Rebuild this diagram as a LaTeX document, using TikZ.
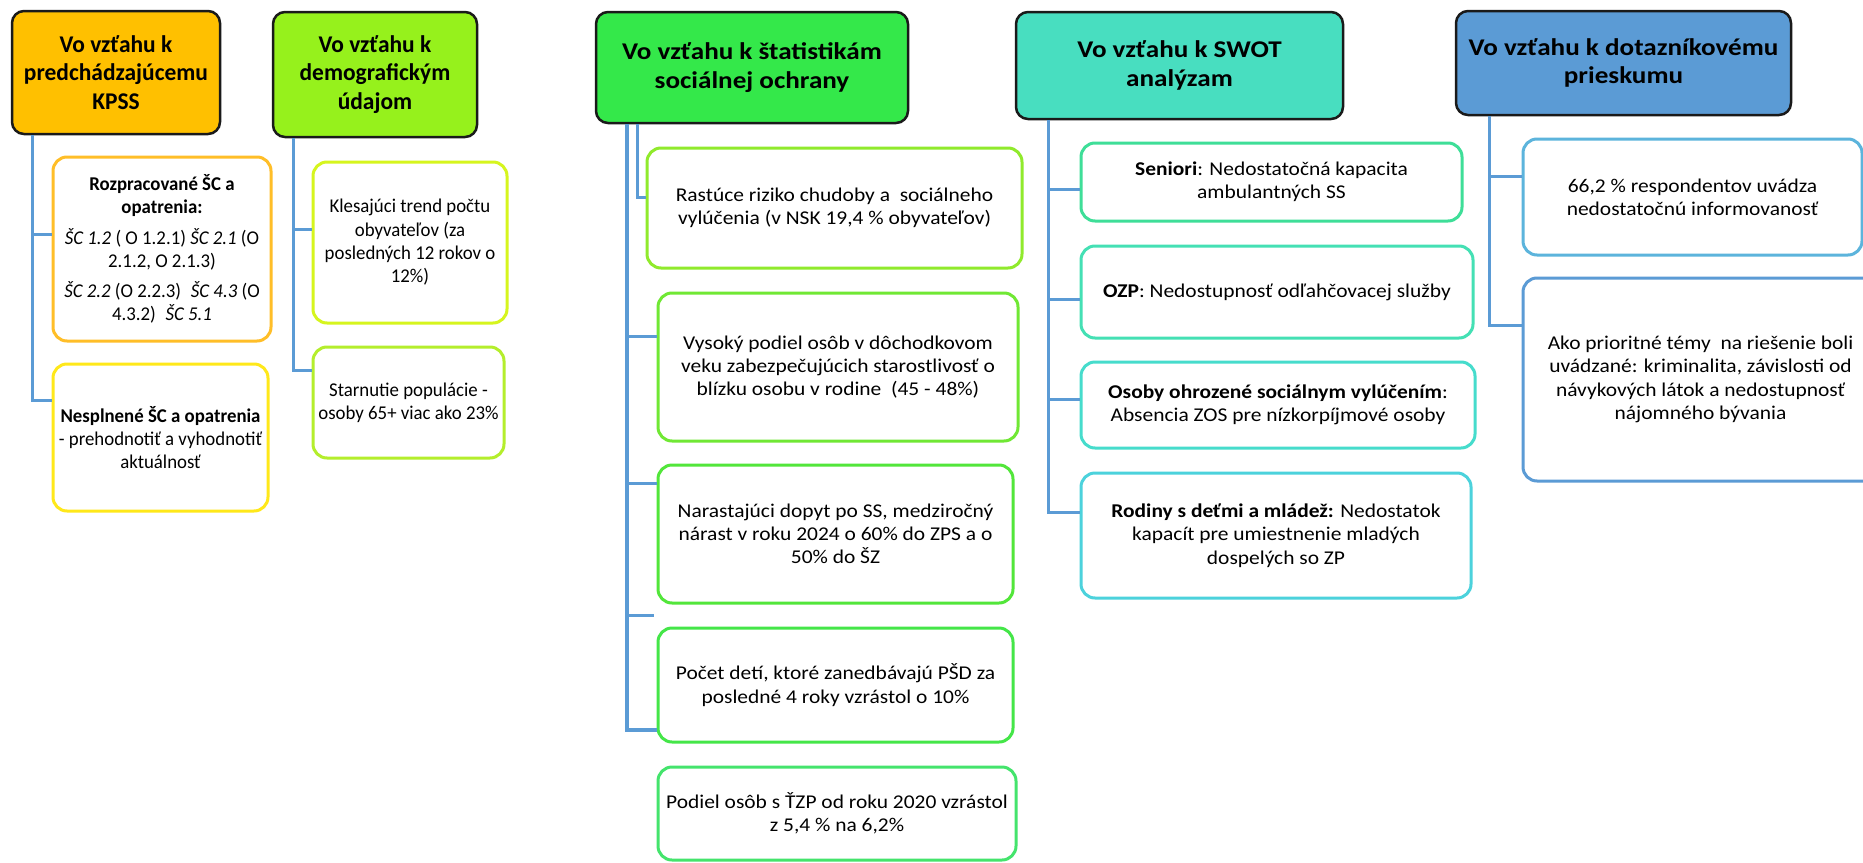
\documentclass[tikz,border=0pt]{standalone}
\usepackage{fontspec}
\setmainfont{Carlito}
\newfontfamily\fA[FakeStretch=0.965]{Carlito}
\newfontfamily\fAh[FakeStretch=0.977]{Carlito}
\newfontfamily\fC[FakeStretch=1.10]{Carlito}
\newfontfamily\fCh[FakeStretch=1.13]{Carlito}
\definecolor{hA}{HTML}{FFC000}
\definecolor{hB}{HTML}{96F11C}
\definecolor{hC}{HTML}{34E84A}
\definecolor{hD}{HTML}{48DEC0}
\definecolor{hE}{HTML}{5B9BD5}
\definecolor{hline}{HTML}{1A1A1A}
\definecolor{conncol}{HTML}{5B9BD5}
\definecolor{bA}{HTML}{FFBE28}
\definecolor{bB}{HTML}{FFE81A}
\definecolor{bC}{HTML}{D6F51E}
\definecolor{bD}{HTML}{B4EE2C}
\definecolor{bE}{HTML}{90EA2C}
\definecolor{bF}{HTML}{70E834}
\definecolor{bG}{HTML}{52E63A}
\definecolor{bH}{HTML}{44E648}
\definecolor{bI}{HTML}{44E46C}
\definecolor{bJ}{HTML}{3EDE98}
\definecolor{bK}{HTML}{44E0B4}
\definecolor{bL}{HTML}{46DCCC}
\definecolor{bM}{HTML}{4CD2DC}
\definecolor{bN}{HTML}{5CB4DC}
\definecolor{bO}{HTML}{5B9BD5}
\newcommand\hdrsize{\fontsize{24}{28.5}\selectfont}
\newcommand\kidsize{\fontsize{19.5}{23.3}\selectfont}
\begin{document}
\begin{tikzpicture}[x=1pt,y=-1pt,
  hdr/.style={draw=hline, line width=2.5pt, rounded corners=12pt, inner sep=0pt, align=center, text=black},
  hdrA/.style={hdr, font=\fAh\hdrsize\bfseries},
  hdrC/.style={hdr, font=\fCh\hdrsize\bfseries},
  kid/.style={draw, line width=3pt, rounded corners=14pt, fill=white, inner sep=0pt, align=center, text=black},
  kidA/.style={kid, font=\fA\kidsize},
  kidC/.style={kid, font=\fC\kidsize},
  conn/.style={draw=conncol, line width=3pt, line join=miter}]
\useasboundingbox (0,0) rectangle (1863,862);
\fill[white] (0,0) rectangle (1863,862);

% headers
\node[hdrA, fill=hA, minimum width=208, minimum height=123] (h1) at (116,72.5) {Vo vzťahu k\\predchádzajúcemu\\KPSS};
\node[hdrA, fill=hB, minimum width=204, minimum height=125] (h2) at (375,74.5) {Vo vzťahu k\\demografickým\\údajom};
\node[hdrC, fill=hC, minimum width=312, minimum height=111] (h3) at (752,67.5) {Vo vzťahu k štatistikám\\sociálnej ochrany};
\node[hdrC, fill=hD, minimum width=327, minimum height=107] (h4) at (1179.5,65.5) {Vo vzťahu k SWOT\\analýzam};
\node[hdrC, fill=hE, minimum width=335, minimum height=104] (h5) at (1623.5,63) {Vo vzťahu k dotazníkovému\\prieskumu};

% column 1
\node[kidA, draw=bA, minimum width=218, minimum height=184] (c1a) at (162,249)
 {\textbf{Rozpracované ŠC a}\\\textbf{opatrenia:}\\[7pt]\textit{ŠC 1.2} ( O 1.2.1) \textit{ŠC 2.1} (O\\2.1.2, O 2.1.3)\\[7pt]\textit{ŠC 2.2} (O 2.2.3)\enspace\textit{ŠC 4.3} (O\\4.3.2)\enspace\textit{ŠC 5.1}};
\node[kidA, draw=bB, minimum width=215, minimum height=147] (c1b) at (160.5,437.5)
 {\textbf{Nesplnené ŠC a opatrenia}\\- prehodnotiť a vyhodnotiť\\aktuálnosť};

% column 2
\node[kidA, draw=bC, minimum width=194, minimum height=161] (c2a) at (410,242.5)
 {Klesajúci trend počtu\\obyvateľov (za\\posledných 12 rokov o\\12\%)};
\node[kidA, draw=bD, minimum width=191, minimum height=111] (c2b) at (408.5,402.5)
 {Starnutie populácie -\\osoby 65+ viac ako 23\%};

% column 3
\node[kidC, draw=bE, minimum width=375, minimum height=120] (c3a) at (834.5,208)
 {Rastúce riziko chudoby a\enspace sociálneho\\vylúčenia (v NSK 19,4 \% obyvateľov)};
\node[kidC, draw=bF, minimum width=360, minimum height=148] (c3b) at (838,367)
 {Vysoký podiel osôb v dôchodkovom\\veku zabezpečujúcich starostlivosť o\\blízku osobu v rodine\enspace(45 - 48\%)};
\node[kidC, draw=bG, minimum width=355, minimum height=138] (c3c) at (835.5,534)
 {Narastajúci dopyt po SS, medziročný\\nárast v roku 2024 o 60\% do ZPS a o\\50\% do ŠZ};
\node[kidC, draw=bH, minimum width=355, minimum height=114] (c3d) at (835.5,685)
 {Počet detí, ktoré zanedbávajú PŠD za\\posledné 4 roky vzrástol o 10\%};
\node[kidC, draw=bI, minimum width=358, minimum height=93] (c3e) at (837,813.5)
 {Podiel osôb s ŤZP od roku 2020 vzrástol\\z 5,4 \% na 6,2\%};

% column 4
\node[kidC, draw=bJ, minimum width=381, minimum height=78] (c4a) at (1271.5,182)
 {\textbf{Seniori}: Nedostatočná kapacita\\ambulantných SS};
\node[kidC, draw=bK, minimum width=392, minimum height=92] (c4b) at (1277,292)
 {\textbf{OZP}: Nedostupnosť odľahčovacej služby};
\node[kidC, draw=bL, minimum width=394, minimum height=86] (c4c) at (1278,405)
 {\textbf{Osoby ohrozené sociálnym vylúčením}:\\Absencia ZOS pre nízkorpíjmové osoby};
\node[kidC, draw=bM, minimum width=390, minimum height=125] (c4d) at (1276,535.5)
 {\textbf{Rodiny s deťmi a mládež:} Nedostatok\\kapacít pre umiestnenie mladých\\dospelých so ZP};

% column 5
\node[kidC, draw=bN, minimum width=339, minimum height=116] (c5a) at (1692.5,197)
 {66,2 \% respondentov uvádza\\nedostatočnú informovanosť};
\node[kidC, draw=bO, minimum width=355, minimum height=203] (c5b) at (1700.5,379.5)
 {Ako prioritné témy\enspace na riešenie boli\\uvádzané: kriminalita, závislosti od\\návykových látok a nedostupnosť\\nájomného bývania};

% connectors column 1
\coordinate (t1) at (32,0);
\draw[conn] (h1.south -| t1) |- (c1b.west |- 0,400);
\draw[conn] (t1 |- 0,234) -- (c1a.west |- 0,234);
% column 2
\coordinate (t2) at (293,0);
\draw[conn] (h2.south -| t2) |- (c2b.west |- 0,370);
\draw[conn] (t2 |- 0,229) -- (c2a.west |- 0,229);
% column 3
\coordinate (t3) at (627,0);
\coordinate (t3b) at (637,0);
\coordinate (g3) at (654,615);
\draw[conn, line width=3.5pt] (h3.south -| t3) |- (c3d.west |- 0,730);
\draw[conn] (h3.south -| t3b) |- (c3a.west |- 0,197);
\draw[conn] (t3 |- 0,336) -- (c3b.west |- 0,336);
\draw[conn] (t3 |- 0,483) -- (c3c.west |- 0,483);
\draw[conn] (t3 |- g3) -- (g3);
% column 4
\coordinate (t4) at (1048,0);
\draw[conn] (h4.south -| t4) |- (c4d.west |- 0,512);
\draw[conn] (t4 |- 0,189) -- (c4a.west |- 0,189);
\draw[conn] (t4 |- 0,299) -- (c4b.west |- 0,299);
\draw[conn] (t4 |- 0,399) -- (c4c.west |- 0,399);
% column 5
\coordinate (t5) at (1489,0);
\draw[conn] (h5.south -| t5) |- (c5b.west |- 0,325);
\draw[conn] (t5 |- 0,176) -- (c5a.west |- 0,176);
\end{tikzpicture}
\end{document}
